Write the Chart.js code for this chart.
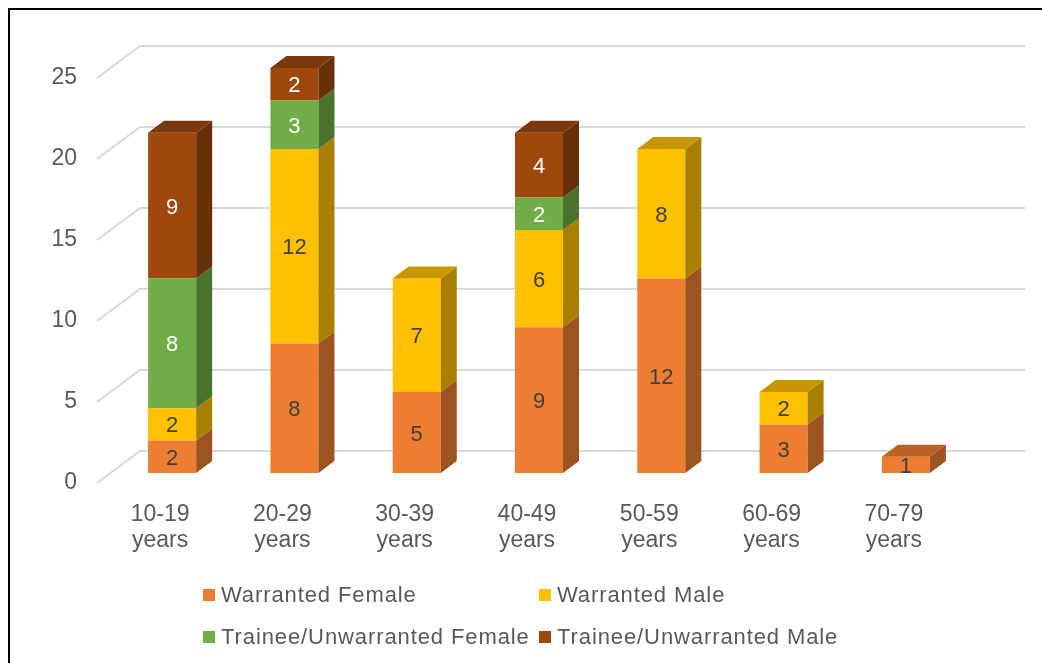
<!DOCTYPE html>
<html>
<head>
<meta charset="utf-8">
<script src="https://cdn.jsdelivr.net/npm/chart.js@4/dist/chart.umd.min.js"></script>
<style>
  html, body { margin: 0; padding: 0; background: #fff; overflow: hidden; }
  #wrap { position: relative; width: 1042px; height: 663px; }
</style>
</head>
<body>
<div id="wrap"><canvas id="ageChart" width="1042" height="663"></canvas></div>
<script>
// Age groups (two-line tick labels)
const ageGroups = [
    ['10-19', 'years'], ['20-29', 'years'], ['30-39', 'years'], ['40-49', 'years'],
    ['50-59', 'years'], ['60-69', 'years'], ['70-79', 'years'],
];

// Series values
const warrantedFemale = [2, 8, 5, 9, 12, 3, 1];
const warrantedMale = [2, 12, 7, 6, 8, 2, 0];
const traineeFemale = [8, 3, 0, 2, 0, 0, 0];
const traineeMale = [9, 2, 0, 4, 0, 0, 0];

const seriesNames = ['Warranted Female', 'Warranted Male', 'Trainee/Unwarranted Female', 'Trainee/Unwarranted Male'];
const yTicks = [0, 5, 10, 15, 20, 25];

const colors = ['#ED7D31', '#FFC000', '#70AD47', '#9E480E'];
const labelColors = ['#404040', '#404040', '#FFFFFF', '#FFFFFF'];
const FONT = "'Liberation Sans', Arial, sans-serif";

// depth of the bars
const BAR_DX = 16, BAR_DY = 12;

function shade(hex, f) {
    const n = parseInt(hex.slice(1), 16);
    const r = Math.round(((n >> 16) & 255) * f);
    const g = Math.round(((n >> 8) & 255) * f);
    const b = Math.round((n & 255) * f);
    return `rgb(${r},${g},${b})`;
}

// Back wall gridlines with the floor diagonals
const wallGrid = {
    id: 'wallGrid',
    beforeDatasetsDraw(chart) {
        const { ctx, scales: { y } } = chart;
        ctx.save();
        ctx.strokeStyle = '#D9D9D9';
        ctx.lineWidth = 2;
        yTicks.forEach((v) => {
            const py = y.getPixelForValue(v);
            ctx.beginPath();
            ctx.moveTo(97, py + 10);
            ctx.lineTo(140, py - 22);
            ctx.lineTo(1025, py - 22);
            ctx.stroke();
        });
        ctx.restore();
    },
};

// Side and top faces of the bars plus value labels
const bar3d = {
    id: 'bar3d',
    afterDatasetsDraw(chart) {
        const { ctx } = chart;
        const sets = chart.data.datasets;
        ctx.save();
        ageGroups.forEach((_, i) => {
            let topSet = -1;
            sets.forEach((ds, d) => { if (ds.data[i] > 0) topSet = d; });
            sets.forEach((ds, d) => {
                if (!(ds.data[i] > 0)) return;
                const el = chart.getDatasetMeta(d).data[i];
                const { x, y, base, width } = el.getProps(['x', 'y', 'base', 'width'], true);
                const left = x - width / 2, right = x + width / 2;
                const top = Math.min(y, base), bottom = Math.max(y, base);

                ctx.fillStyle = shade(colors[d], 0.66);
                ctx.beginPath();
                ctx.moveTo(right, top);
                ctx.lineTo(right + BAR_DX, top - BAR_DY);
                ctx.lineTo(right + BAR_DX, bottom - BAR_DY);
                ctx.lineTo(right, bottom);
                ctx.closePath();
                ctx.fill();

                if (d === topSet) {
                    ctx.fillStyle = shade(colors[d], 0.78);
                    ctx.beginPath();
                    ctx.moveTo(left, top);
                    ctx.lineTo(left + BAR_DX, top - BAR_DY);
                    ctx.lineTo(right + BAR_DX, top - BAR_DY);
                    ctx.lineTo(right, top);
                    ctx.closePath();
                    ctx.fill();
                }
            });
            // labels last so they sit above the faces
            sets.forEach((ds, d) => {
                if (!(ds.data[i] > 0)) return;
                const el = chart.getDatasetMeta(d).data[i];
                const { x, y, base } = el.getProps(['x', 'y', 'base'], true);
                ctx.fillStyle = labelColors[d];
                ctx.font = `22px ${FONT}`;
                ctx.textAlign = 'center';
                ctx.textBaseline = 'middle';
                ctx.fillText(String(ds.data[i]), x, (y + base) / 2 + 2);
            });
        });
        ctx.restore();
    },
};

// Legend in a 2x2 grid, and the outer frame
const gridLegend = {
    id: 'gridLegend',
    afterDraw(chart) {
        const { ctx } = chart;
        const cols = [203, 539];
        const rows = [595, 637];
        ctx.save();
        ctx.font = `22px ${FONT}`;
        ctx.letterSpacing = '0.9px';
        ctx.textAlign = 'left';
        ctx.textBaseline = 'middle';
        seriesNames.forEach((name, k) => {
            const cx = cols[k % 2], cy = rows[Math.floor(k / 2)];
            ctx.fillStyle = colors[k];
            ctx.fillRect(cx, cy - 6, 12, 12);
            ctx.fillStyle = '#595959';
            ctx.fillText(name, cx + 18, cy + 1);
        });
        // frame
        ctx.strokeStyle = '#000';
        ctx.lineWidth = 2;
        ctx.strokeRect(9, 9, 1200, 1200);
        ctx.restore();
    },
};

const ctx = document.getElementById('ageChart').getContext('2d');
new Chart(ctx, {
    type: 'bar',
    data: {
        labels: ageGroups,
        datasets: seriesNames.map((name, k) => ({
            label: name,
            data: [warrantedFemale, warrantedMale, traineeFemale, traineeMale][k],
            backgroundColor: colors[k],
            borderWidth: 0,
            categoryPercentage: 1,
            barPercentage: 0.393,
        })),
    },
    options: {
        responsive: false,
        animation: false,
        layout: { padding: { left: 0, top: 68, right: 75, bottom: 0 } },
        plugins: {
            legend: { display: false },
            tooltip: { enabled: false },
        },
        scales: {
            x: {
                stacked: true,
                grid: { display: false, drawTicks: false },
                border: { display: false },
                ticks: {
                    color: '#595959',
                    font: { family: FONT, size: 23, lineHeight: 1.12 },
                    padding: 29,
                    labelOffset: -12,
                    maxRotation: 0,
                    autoSkip: false,
                },
                afterFit: (axis) => { axis.height = 190; },
            },
            y: {
                stacked: true,
                min: 0,
                max: 25,
                grid: { display: false, drawTicks: false },
                border: { display: false },
                ticks: {
                    stepSize: 5,
                    color: '#595959',
                    font: { family: FONT, size: 23 },
                    padding: 34,
                    labelOffset: 10,
                },
                afterFit: (axis) => { axis.width = 111; },
            },
        },
    },
    plugins: [wallGrid, bar3d, gridLegend],
});
</script>
</body>
</html>
